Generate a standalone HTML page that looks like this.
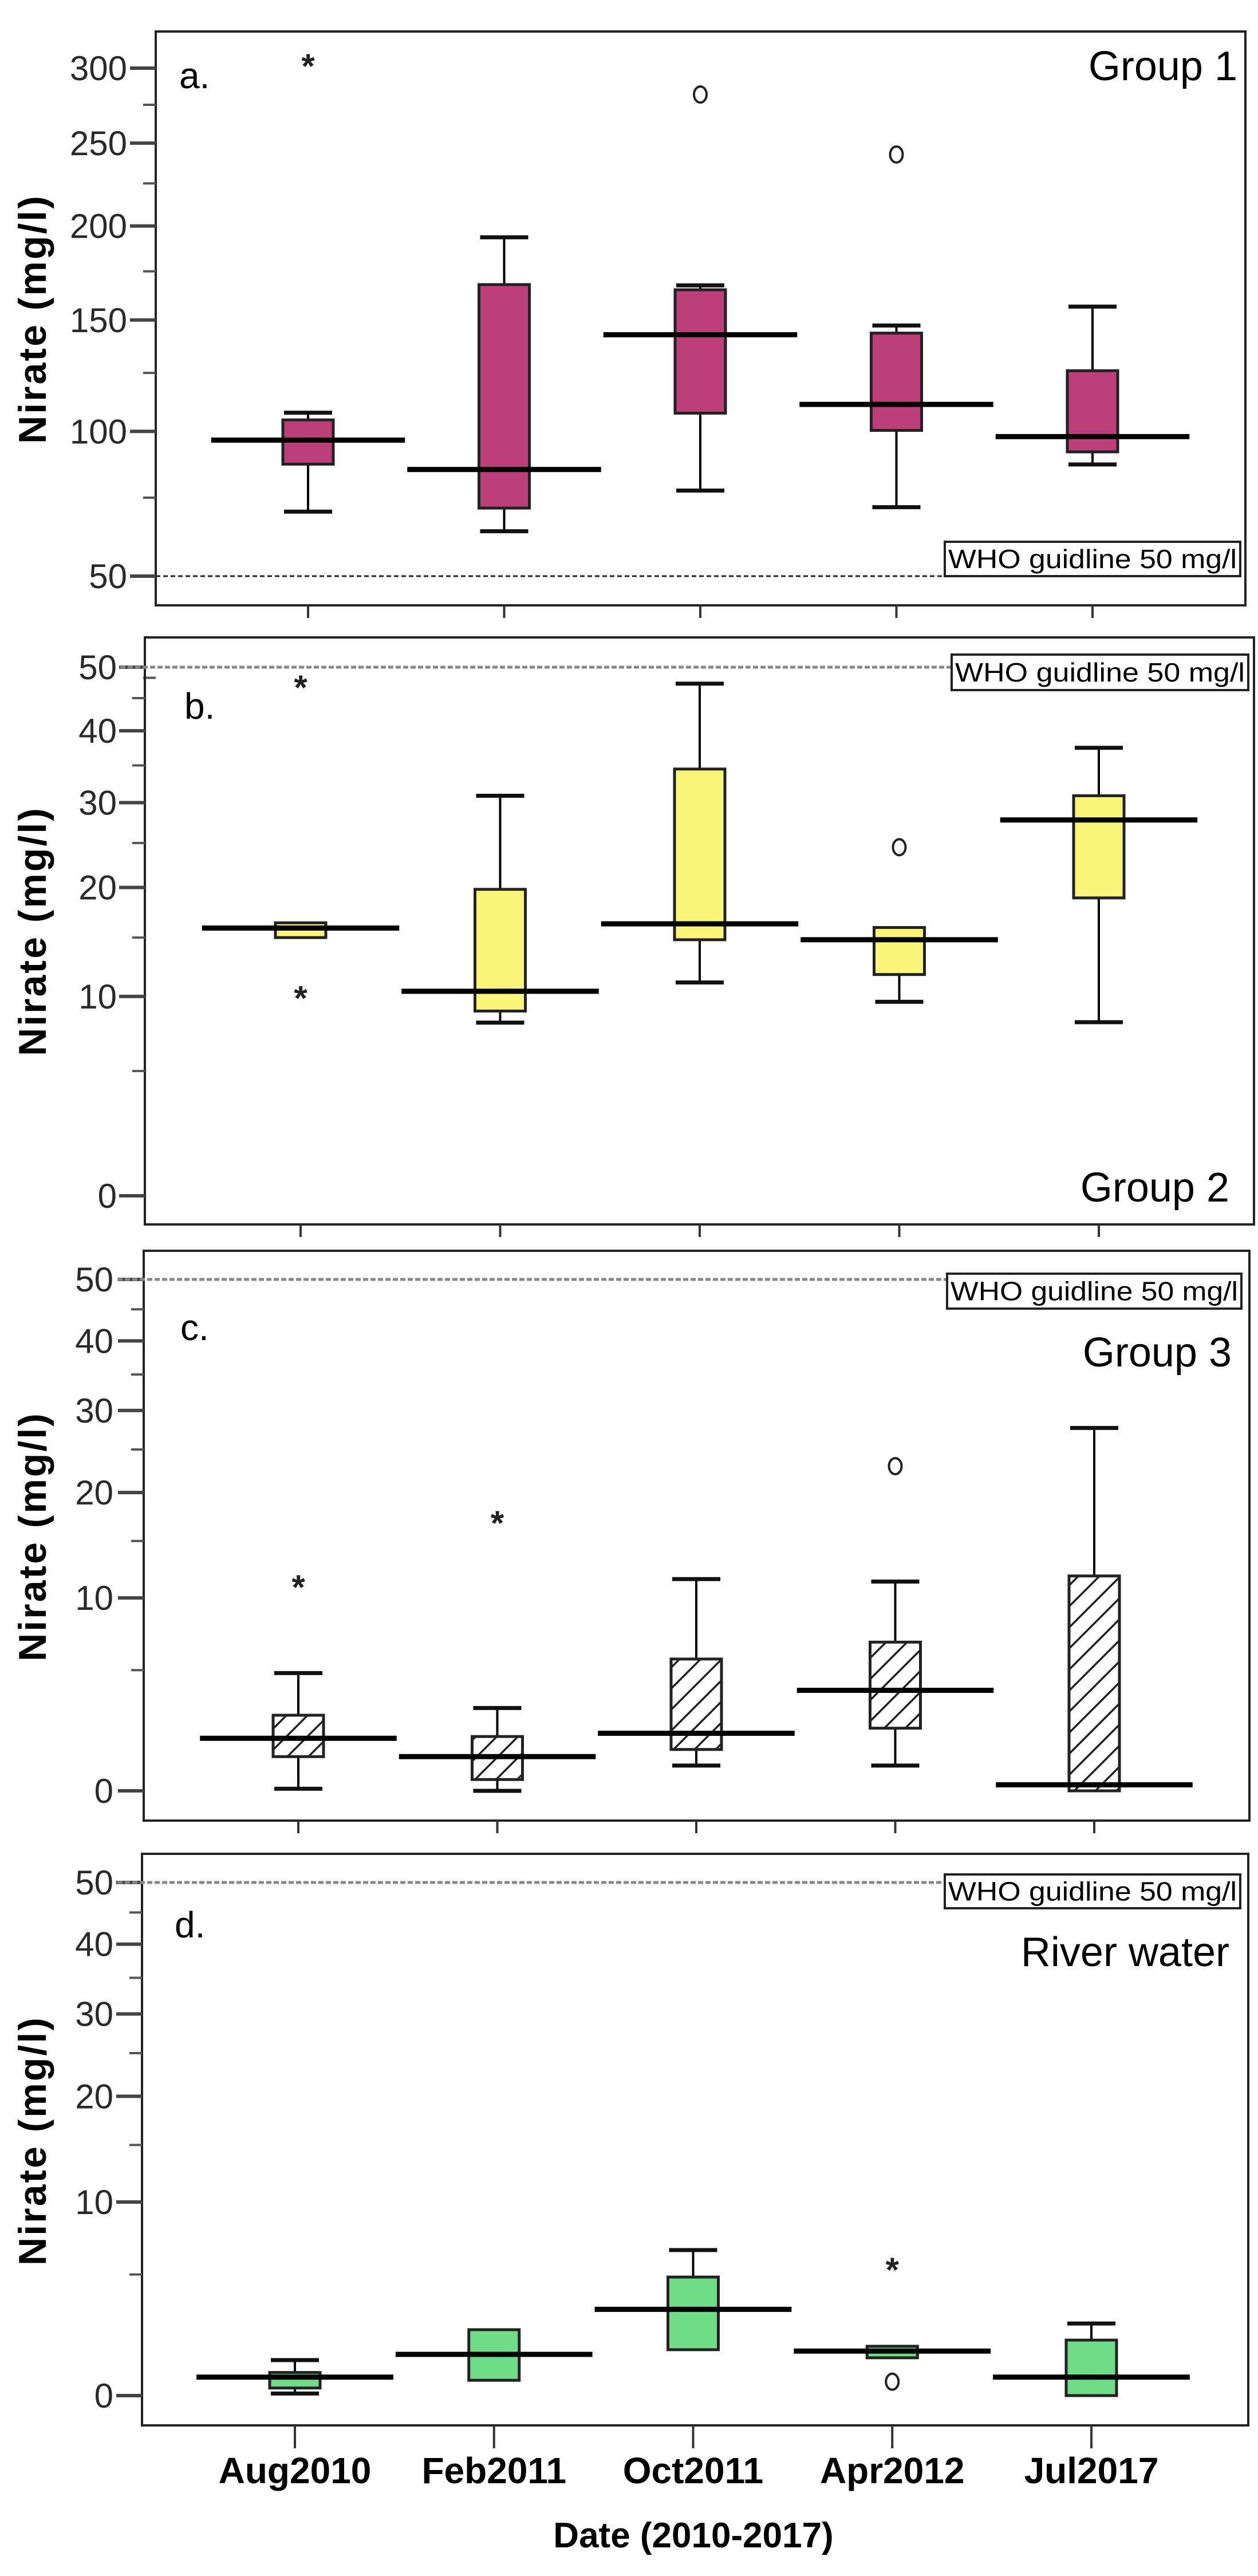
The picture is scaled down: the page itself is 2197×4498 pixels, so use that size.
<!DOCTYPE html>
<html>
<head>
<meta charset="utf-8">
<style>
html,body{margin:0;padding:0;background:#fff;}
svg{display:block;}
text{font-family:"Liberation Sans",Arial,sans-serif;}
</style>
</head>
<body>
<svg id="chart" width="2197" height="4498" viewBox="0 0 2197 4498" xmlns="http://www.w3.org/2000/svg">
<defs>
<pattern id="hatch" patternUnits="userSpaceOnUse" width="26" height="26" patternTransform="rotate(45)">
<rect width="26" height="26" fill="#fff"/>
<line x1="0" y1="0" x2="0" y2="26" stroke="#222" stroke-width="7"/>
</pattern>
</defs>
</svg>
<script>
// ---------- DATA ----------
const categories = ['Aug2010','Feb2011','Oct2011','Apr2012','Jul2017'];

// Group 1 (a)
const loA  = [70.2, 63.7, 77.5, 71.7, 87.1];
const q1A  = [87.2, 71.4, 107.5, 100.4, 91.9];
const medA = [96.5, 85.2, 142.8, 111.2, 97.9];
const q3A  = [104.7, 168, 165.3, 143.6, 126];
const hiA  = [107.7, 193.6, 167.6, 147.3, 156.7];
const outCatA = [0, 2, 3];
const outValA = [303.6, 281.9, 242.8];
const outTypeA = ['*', 'o', 'o'];
const ticksA = [50, 100, 150, 200, 250, 300];
const minorA = [25, 75, 125, 175, 225, 275];

// Group 2 (b)
const loB  = [15.0, 8.07, 11.1, 9.59, 8.1];
const q1B  = [15.0, 8.9, 14.8, 11.75, 18.9];
const medB = [15.9, 10.4, 16.3, 14.8, 27.8];
const q3B  = [16.4, 19.8, 34.5, 15.95, 30.9];
const hiB  = [16.4, 30.9, 47.3, 15.95, 37.5];
const outCatB = [0, 0, 3];
const outValB = [47.2, 10.1, 24.5];
const outTypeB = ['*', '*', 'o'];

// Group 3 (c)
const loC  = [0.05, 0, 0.7, 0.7, 0];
const q1C  = [0.99, 0.29, 1.24, 2.07, 0];
const medC = [1.66, 0.99, 1.86, 3.87, 0.15];
const q3C  = [2.64, 1.73, 5.67, 6.76, 11.82];
const hiC  = [4.83, 2.98, 11.55, 11.34, 27.7];
const outCatC = [0, 1, 3];
const outValC = [11.14, 17.1, 23.0];
const outTypeC = ['*', '*', 'o'];

// River water (d)
const loD  = [0.05, 0.4, 1.4, 1.11, 0];
const q1D  = [0.19, 0.4, 1.4, 1.11, 0];
const medD = [0.49, 1.23, 3.13, 1.35, 0.49];
const q3D  = [0.63, 2.2, 4.85, 1.53, 1.77];
const hiD  = [1.03, 2.2, 6.52, 1.53, 2.47];
const outCatD = [3, 3];
const outValD = [5.47, 0.36];
const outTypeD = ['*', 'o'];

const ticksLow = [0, 10, 20, 30, 40, 50];
const minorLow = [5, 15, 25, 35, 45];
const whoValue = 50;

// ---------- DRAW ----------
const svg = document.getElementById('chart');
const NS = 'http://www.w3.org/2000/svg';
function mk(tag, attrs, parent){
  const e = document.createElementNS(NS, tag);
  for (const k in attrs) e.setAttribute(k, attrs[k]);
  (parent||svg).appendChild(e);
  return e;
}

function drawPanel(p){
  const g = mk('g', {});
  
  
  const st = Math.sqrt(p.topV+1), sb = Math.sqrt(p.botV+1);
  const k = (p.yBot - p.yTop)/(st - sb);
  const y = v => p.yTop + (st - Math.sqrt(v+1))*k;
  const x = i => p.x0 + i*p.step;
  const F = p.frame;

  const fr = mk('rect', {x:F[0], y:F[1], width:F[2]-F[0], height:F[3]-F[1], fill:'none', stroke:'#222', 'stroke-width':4}, g);
  
  

  p.ticks.forEach(t => {
    const tl = mk('line', {x1:F[0]-45, x2:F[0], y1:y(t), y2:y(t), stroke:'#444', 'stroke-width':6}, g);
    
    
    const tx = mk('text', {x:p.labelRight, y:y(t)+21, 'text-anchor':'end', 'font-size':60, fill:'#2a2a2a'}, g);
    tx.textContent = t;
    
    
  });
  p.minor.forEach(t => {
    const tl = mk('line', {x1:F[0]-22, x2:F[0], y1:y(t), y2:y(t), stroke:'#555', 'stroke-width':4}, g);
    
    
  });
  categories.forEach((c,i) => {
    const tl = mk('line', {x1:x(i), x2:x(i), y1:F[3], y2:F[3]+p.xTickLen, stroke:'#333', 'stroke-width':4}, g);
    
    
  });

  const wy = y(whoValue);
  const wl = mk('line', {x1:p.whoStart, x2:p.who[0], y1:wy, y2:wy, stroke:p.whoColor, 'stroke-width':p.whoW, 'stroke-dasharray':p.whoDash}, g);
  
  
  const wb = mk('rect', {x:p.who[0], y:p.who[1], width:p.who[2]-p.who[0], height:p.who[3]-p.who[1], fill:'#fff', stroke:'#222', 'stroke-width':4}, g);
  
  
  const wt = mk('text', {x:p.who[0]+6, y:(p.who[1]+p.who[3])/2+16, 'font-size':46, textLength:p.who[2]-p.who[0]-12, lengthAdjust:'spacingAndGlyphs', fill:'#000'}, g);
  wt.textContent = 'WHO guidline 50 mg/l';
  
  

  const bw = 88, cw = 84;
  categories.forEach((c,i) => {
    const bg = mk('g', {}, g);
    
    
    const xi = x(i);
    if (p.hi[i] > p.q3[i] + 1e-9) {
      mk('line', {x1:xi, x2:xi, y1:y(p.q3[i]), y2:y(p.hi[i]), stroke:'#000', 'stroke-width':4}, bg);
      mk('line', {x1:xi-cw/2, x2:xi+cw/2, y1:y(p.hi[i]), y2:y(p.hi[i]), stroke:'#111', 'stroke-width':7}, bg);
    }
    if (p.lo[i] < p.q1[i] - 1e-9) {
      mk('line', {x1:xi, x2:xi, y1:y(p.q1[i]), y2:y(p.lo[i]), stroke:'#000', 'stroke-width':4}, bg);
      mk('line', {x1:xi-cw/2, x2:xi+cw/2, y1:y(p.lo[i]), y2:y(p.lo[i]), stroke:'#111', 'stroke-width':7}, bg);
    }
    const r = mk('rect', {x:xi-bw/2, y:y(p.q3[i]), width:bw, height:Math.max(1, y(p.q1[i])-y(p.q3[i])), fill:p.fill, stroke:'#222', 'stroke-width':5}, bg);
    
    
    const m = mk('line', {x1:xi-p.step/2+2, x2:xi+p.step/2-2, y1:y(p.med[i]), y2:y(p.med[i]), stroke:'#000', 'stroke-width':9}, bg);
    
    
  });

  p.outCat.forEach((c,j) => {
    const xi = x(c), yv = y(p.outVal[j]);
    let e;
    if (p.outType[j] === 'o') {
      e = mk('ellipse', {cx:xi, cy:yv, rx:11, ry:14, fill:'none', stroke:'#222', 'stroke-width':4}, g);
      
    } else {
      e = mk('text', {x:xi, y:yv+26, 'text-anchor':'middle', 'font-size':60, 'font-weight':'bold', fill:'#222'}, g);
      e.textContent = '*';
      
    }
    
  });

  const pl = mk('text', {x:p.letter[0], y:p.letter[1]+22, 'font-size':64, fill:'#000'}, g);
  pl.textContent = p.letterText;
  
  
  const gl = mk('text', {x:p.group[0], y:p.group[1]+26, 'text-anchor':'end', 'font-size':72, fill:'#000'}, g);
  gl.textContent = p.groupText;
  
  
  const yt = mk('text', {x:0, y:0, 'text-anchor':'middle', 'font-size':68, 'font-weight':'bold', 'letter-spacing':3, fill:'#000', transform:'translate(' + (p.ytitle[0]+24) + ',' + p.ytitle[1] + ') rotate(-90)'}, g);
  yt.textContent = 'Nirate (mg/l)';
  
  
}

drawPanel({name:'panel-a-group1', frame:[272,55,2175,1057], topV:300, yTop:119, botV:50, yBot:1006,
  x0:538, step:342.5, ticks:ticksA, minor:minorA, labelRight:222, xTickLen:22,
  lo:loA,q1:q1A,med:medA,q3:q3A,hi:hiA,outCat:outCatA,outVal:outValA,outType:outTypeA,
  fill:'#bc3f7a', whoStart:272, whoColor:'#222', whoW:3, whoDash:'8,5', who:[1650,946,2166,1006],
  letter:[313,132], letterText:'a.', group:[2161,114], groupText:'Group 1', ytitle:[56,557]});

drawPanel({name:'panel-b-group2', frame:[253,1113,2190,2138], topV:50, yTop:1165, botV:0, yBot:2088,
  x0:525, step:348.5, ticks:ticksLow, minor:minorLow, labelRight:204, xTickLen:22,
  lo:loB,q1:q1B,med:medB,q3:q3B,hi:hiB,outCat:outCatB,outVal:outValB,outType:outTypeB,
  fill:'#f9f578', whoStart:210, whoColor:'#888', whoW:5, whoDash:'9,4', who:[1662,1143,2180,1205],
  letter:[322,1233], letterText:'b.', group:[2147,2072], groupText:'Group 2', ytitle:[56,1626]});

drawPanel({name:'panel-c-group3', frame:[251,2184,2182,3179], topV:50, yTop:2234, botV:0, yBot:3127,
  x0:521, step:347.5, ticks:ticksLow, minor:minorLow, labelRight:198, xTickLen:22,
  lo:loC,q1:q1C,med:medC,q3:q3C,hi:hiC,outCat:outCatC,outVal:outValC,outType:outTypeC,
  fill:'url(#hatch)', whoStart:205, whoColor:'#888', whoW:5, whoDash:'9,4', who:[1654,2224,2168,2285],
  letter:[315,2318], letterText:'c.', group:[2151,2360], groupText:'Group 3', ytitle:[56,2683]});

drawPanel({name:'panel-d-river-water', frame:[248,3237,2180,4235], topV:50, yTop:3287, botV:0, yBot:4183,
  x0:515, step:347.75, ticks:ticksLow, minor:minorLow, labelRight:198, xTickLen:40,
  lo:loD,q1:q1D,med:medD,q3:q3D,hi:hiD,outCat:outCatD,outVal:outValD,outType:outTypeD,
  fill:'#6fdc86', whoStart:205, whoColor:'#888', whoW:5, whoDash:'9,4', who:[1650,3273,2166,3332],
  letter:[305,3361], letterText:'d.', group:[2147,3407], groupText:'River water', ytitle:[56,3738]});

categories.forEach((c,i) => {
  const t = mk('text', {x:515 + i*347.75, y:4336, 'text-anchor':'middle', 'font-size':64, 'font-weight':'bold', fill:'#000'});
  t.textContent = c;
  
  
});
const xt = mk('text', {x:1211, y:4448, 'text-anchor':'middle', 'font-size':62, 'font-weight':'bold', fill:'#000'});
xt.textContent = 'Date (2010-2017)';


</script>
</body>
</html>
